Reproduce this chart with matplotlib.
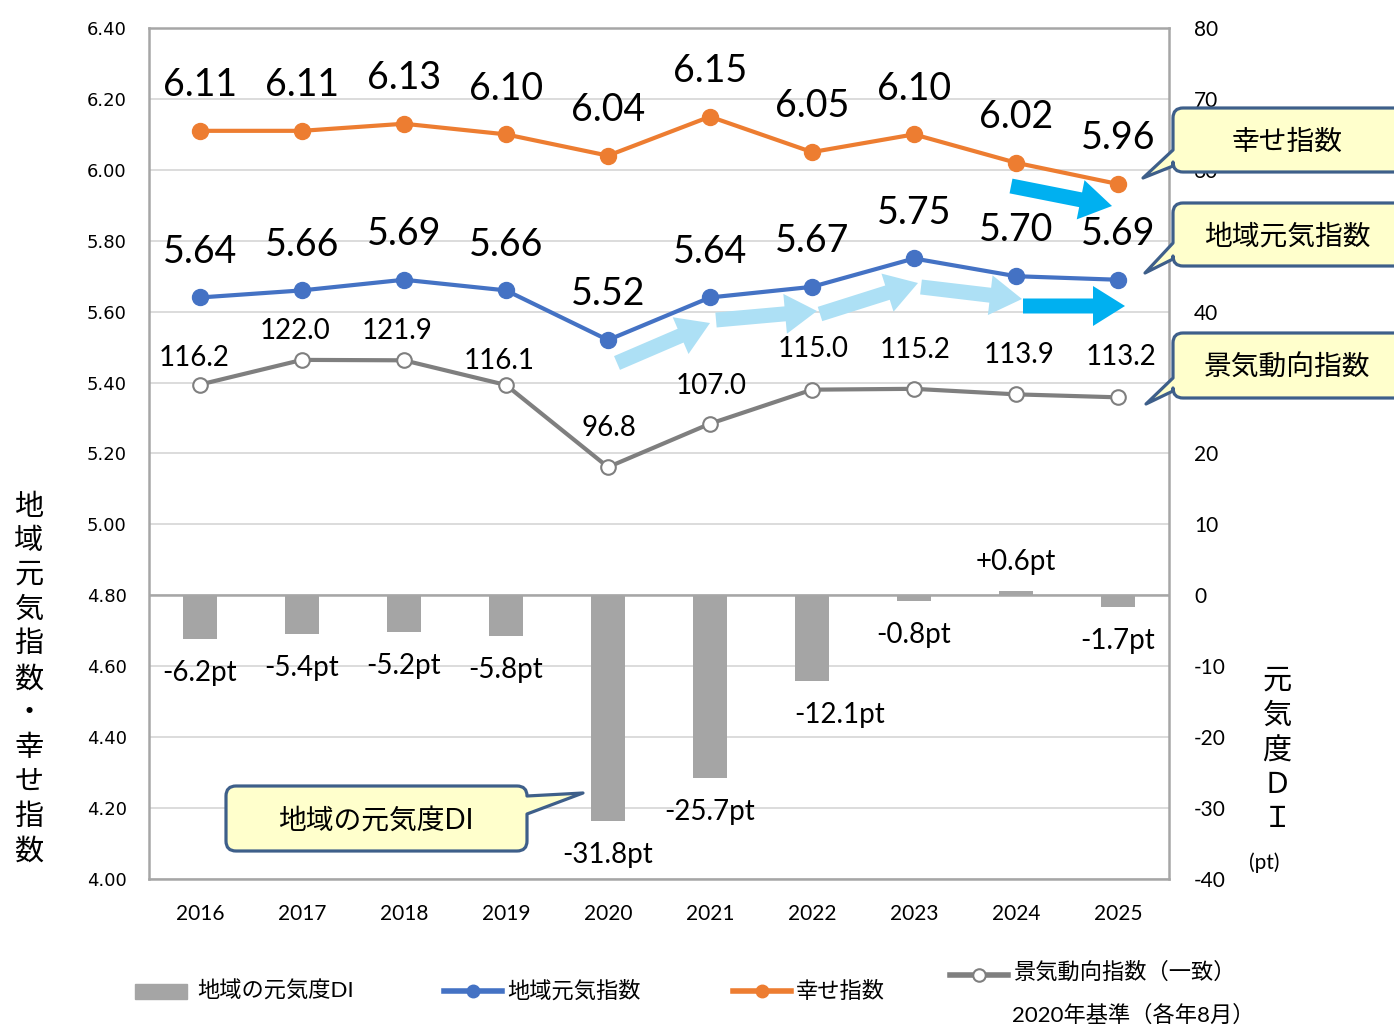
import numpy as np
import matplotlib
matplotlib.use("Agg")
import matplotlib.pyplot as plt
from matplotlib.path import Path
from matplotlib.patches import PathPatch, FancyArrow, Rectangle
from matplotlib.lines import Line2D

plt.rcParams['font.family'] = ['Lato', 'Noto Sans CJK JP', 'DejaVu Sans']
plt.rcParams['axes.unicode_minus'] = False

# data
years = ['2016', '2017', '2018', '2019', '2020', '2021', '2022', '2023', '2024', '2025']
happy = [6.11, 6.11, 6.13, 6.10, 6.04, 6.15, 6.05, 6.10, 6.02, 5.96]
genki = [5.64, 5.66, 5.69, 5.66, 5.52, 5.64, 5.67, 5.75, 5.70, 5.69]
keiki = [116.2, 122.0, 121.9, 116.1, 96.8, 107.0, 115.0, 115.2, 113.9, 113.2]
di = [-6.2, -5.4, -5.2, -5.8, -31.8, -25.7, -12.1, -0.8, 0.6, -1.7]

# label offsets (points)
keiki_dx = [-4, -5, -5, -5, 1, 1, 1, 1, 2, 2]
keiki_dy = [19, 21, 21, 17, 28, 27, 29, 28, 28, 29]
di_dx = [0, 0, 0, 0, 0, 0, 20, 0, 0, 0]

ORANGE = '#ED7D31'
BLUE = '#4472C4'
GRAY = '#7F7F7F'
BAR = '#A5A5A5'
EDGE = '#3E5F8A'
FILL = '#FFFFCC'

fig = plt.figure(figsize=(13.94, 10.27), dpi=100)
W, H = 1394, 1027
ax = fig.add_axes([149 / W, 1 - 879 / H, 1020 / W, 851 / H])
ax2 = ax.twinx()
ax3 = ax.twinx()
ax2.set_zorder(1)
ax3.set_zorder(2)
ax.set_zorder(3)
ax.patch.set_visible(False)
ax3.patch.set_visible(False)

x = np.arange(len(years))

# bars + grid on the lowest axes
ax2.set_ylim(-40, 80)
ax2.set_yticks(np.arange(-40, 81, 10))
ax2.yaxis.grid(True, color='#D9D9D9', lw=1.3)
ax2.set_axisbelow(True)
ax2.bar(x, di, width=0.33, color=BAR, zorder=2)
ax2.axhline(0, color='#A6A6A6', lw=1.8, zorder=3)
ax2.tick_params(axis='y', length=0, pad=18, labelsize=15)
for i, v in enumerate(di):
    dy = 21 if v > 0 else -24.5
    ax2.annotate(f'{v:+.1f}pt', (i, v), xytext=(di_dx[i], dy), textcoords='offset points',
                 ha='center', va='center', fontsize=20)

# business index on hidden axis
ax3.set_ylim(0, 200)
ax3.axis('off')
ax3.plot(x, keiki, color=GRAY, lw=3, marker='o', ms=10.5, mfc='white', mec=GRAY, mew=1.5)
for i, v in enumerate(keiki):
    ax3.annotate(f'{v:.1f}', (i, v), xytext=(keiki_dx[i], keiki_dy[i]), textcoords='offset points',
                 ha='center', va='center', fontsize=20)

# main indices
ax.set_xlim(-0.5, 9.5)
ax.set_ylim(4.0, 6.4)
yt = np.arange(4.0, 6.41, 0.2)
ax.set_yticks(yt)
ax.set_yticklabels([f'{t:.2f}' for t in yt], family='DejaVu Sans', fontsize=13)
ax.set_xticks(x)
ax.set_xticklabels(years, fontsize=15)
ax.tick_params(axis='y', length=0, pad=16)
ax.tick_params(axis='x', length=0, pad=18)
for s in ax.spines.values():
    s.set_color('#A6A6A6')
    s.set_linewidth(1.8)
for s in ax2.spines.values():
    s.set_visible(False)

ax.plot(x, happy, color=ORANGE, lw=3, marker='o', ms=11.5)
ax.plot(x, genki, color=BLUE, lw=3, marker='o', ms=11.5)
for i, v in enumerate(happy):
    ax.annotate(f'{v:.2f}', (i, v), xytext=(0, 33), textcoords='offset points',
                ha='center', va='center', fontsize=27)
for i, v in enumerate(genki):
    ax.annotate(f'{v:.2f}', (i, v), xytext=(0, 33), textcoords='offset points',
                ha='center', va='center', fontsize=27)

# overlay in pixel coordinates for callouts, arrows, axis titles, legend
ov = fig.add_axes([0, 0, 1, 1])
ov.set_xlim(0, W)
ov.set_ylim(H, 0)
ov.axis('off')
ov.patch.set_visible(False)
ov.set_zorder(10)


def callout(x0, y0, x1, y1, side, b0, b1, tip, r=10):
    v = [(x0 + r, y0), (x1 - r, y0), (x1, y0), (x1, y0 + r)]
    c = [Path.MOVETO, Path.LINETO, Path.CURVE3, Path.CURVE3]
    if side == 'right':
        v += [(x1, b0), tip, (x1, b1)]
        c += [Path.LINETO] * 3
    v += [(x1, y1 - r), (x1, y1), (x1 - r, y1), (x0 + r, y1), (x0, y1), (x0, y1 - r)]
    c += [Path.LINETO, Path.CURVE3, Path.CURVE3, Path.LINETO, Path.CURVE3, Path.CURVE3]
    if side == 'left':
        v += [(x0, b1), tip, (x0, b0)]
        c += [Path.LINETO] * 3
    v += [(x0, y0 + r), (x0, y0), (x0 + r, y0), (x0 + r, y0)]
    c += [Path.LINETO, Path.CURVE3, Path.CURVE3, Path.CLOSEPOLY]
    ov.add_patch(PathPatch(Path(v, c), facecolor=FILL, edgecolor=EDGE, lw=2.3, joinstyle='round'))


callout(1173, 108, 1410, 172, 'left', 150, 166, (1143, 178))
ov.text(1287, 142, '幸せ指数', ha='center', va='center', fontsize=20)
callout(1173, 203, 1410, 266, 'left', 243, 259, (1145, 273))
ov.text(1287, 237, '地域元気指数', ha='center', va='center', fontsize=20)
callout(1173, 333, 1410, 398, 'left', 378, 391, (1146, 404))
ov.text(1287, 368, '景気動向指数', ha='center', va='center', fontsize=20)
callout(226, 786, 527, 851, 'right', 796, 814, (583, 793))
ov.text(376, 822, '地域の元気度DI', ha='center', va='center', fontsize=20)

# trend arrows
light = '#ADE0F5'
for (sx, sy, ex, ey) in [(617, 363, 710, 323), (716, 320, 817, 311),
                         (820, 314, 918, 283), (921, 287, 1022, 299)]:
    ov.add_patch(FancyArrow(sx, sy, ex - sx, ey - sy, width=15, head_width=40, head_length=32,
                            length_includes_head=True, color=light, lw=0))
for (sx, sy, ex, ey) in [(1011, 186, 1112, 206), (1023, 306, 1125, 306)]:
    ov.add_patch(FancyArrow(sx, sy, ex - sx, ey - sy, width=15, head_width=40, head_length=32,
                            length_includes_head=True, color='#00B0F0', lw=0))

# axis titles
ov.text(29, 679, '\n'.join('地域元気指数・幸せ指数'), ha='center', va='center',
        fontsize=21, linespacing=1.38)
ov.text(1277, 750, '\n'.join('元気度ＤＩ'), ha='center', va='center',
        fontsize=21, linespacing=1.38)
ov.text(1264, 863, '(pt)', ha='center', va='center', fontsize=15)

# legend
ov.add_patch(Rectangle((135, 984), 52, 15, color=BAR))
ov.text(197, 991, '地域の元気度DI', ha='left', va='center', fontsize=16)
ov.add_line(Line2D([444, 502], [991, 991], color=BLUE, lw=4))
ov.add_line(Line2D([473], [991], color=BLUE, marker='o', ms=9))
ov.text(507, 991, '地域元気指数', ha='left', va='center', fontsize=16)
ov.add_line(Line2D([733, 791], [991, 991], color=ORANGE, lw=4))
ov.add_line(Line2D([762], [991], color=ORANGE, marker='o', ms=9))
ov.text(796, 991, '幸せ指数', ha='left', va='center', fontsize=16)
ov.add_line(Line2D([950, 1008], [975, 975], color=GRAY, lw=4))
ov.add_line(Line2D([979], [975], color=GRAY, marker='o', ms=9, mfc='white', mew=1.5))
ov.text(1013, 972, '景気動向指数（一致）', ha='left', va='center', fontsize=16)
ov.text(1012, 1015, '2020年基準（各年8月）', ha='left', va='center', fontsize=16)

fig.savefig('out.png', dpi=100)
